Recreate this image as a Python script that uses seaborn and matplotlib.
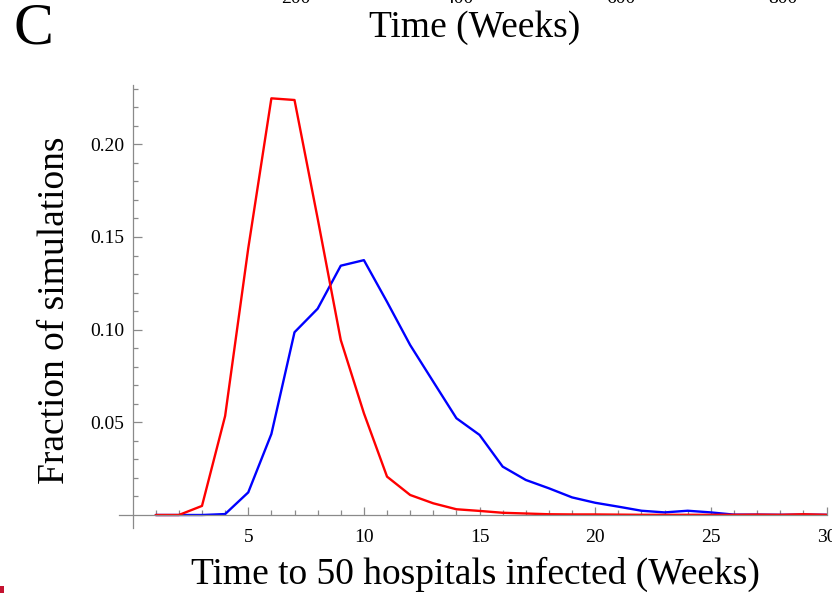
import numpy as np
import pandas as pd
import matplotlib
matplotlib.use("Agg")
import matplotlib.pyplot as plt
from matplotlib.ticker import FixedLocator, FuncFormatter
from matplotlib.patches import Rectangle
import seaborn as sns

# ---- data ----
weeks = list(range(1, 31))
red_fraction = [0, 0, 0.0049, 0.0534, 0.1439, 0.2248, 0.2239, 0.160, 0.0944, 0.0549,
                0.0207, 0.0108, 0.0063, 0.0031, 0.0022, 0.0012, 0.0008, 0.0004, 0.0003, 0.0003,
                0.0002, 0.0001, 0.0001, 0.0001, 0.0001, 0.0001, 0.0002, 0.0001, 0.0004, 0.0001]
blue_fraction = [0, 0, 0, 0.0005, 0.0122, 0.0437, 0.0986, 0.1113, 0.1345, 0.1375,
                 0.1150, 0.0917, 0.0719, 0.0522, 0.0432, 0.0261, 0.0189, 0.0144, 0.0095, 0.0066,
                 0.0045, 0.0023, 0.0014, 0.0023, 0.0014, 0.0002, 0.0002, 0.0001, 0.0002, 0.0001]
x_major_ticks = [5, 10, 15, 20, 25, 30]
y_major_ticks = [0.05, 0.10, 0.15, 0.20]
top_tick_labels = ["200", "400", "600", "800"]

df = pd.DataFrame({"week": weeks, "red": red_fraction, "blue": blue_fraction})

sns.set_style("white")
plt.rcParams["font.family"] = ["Liberation Serif", "DejaVu Serif"]
plt.rcParams["text.color"] = "black"
plt.rcParams["axes.labelcolor"] = "black"
plt.rcParams["xtick.color"] = "black"
plt.rcParams["ytick.color"] = "black"

W, H = 832, 593
fig = plt.figure(figsize=(W / 100, H / 100), dpi=100)

# axes geometry in pixels
x0_px, unit_x = 132.6, 23.13
xmin, xmax = -0.6, 30.02
y0_px, unit_y = 515.0, 1853.5
ymin, ymax = -0.007, 0.232
left_px = x0_px + xmin * unit_x
right_px = x0_px + xmax * unit_x
bottom_px = y0_px - ymin * unit_y
top_px = y0_px - ymax * unit_y
ax = fig.add_axes([left_px / W, 1 - bottom_px / H,
                   (right_px - left_px) / W, (bottom_px - top_px) / H])

sns.lineplot(data=df, x="week", y="blue", ax=ax, color="#0000ff", lw=1.7, legend=False)
sns.lineplot(data=df, x="week", y="red", ax=ax, color="#ff0000", lw=1.7, legend=False)

ax.set_xlim(xmin, xmax)
ax.set_ylim(ymin, ymax)
for s in ["top", "right"]:
    ax.spines[s].set_visible(False)
ax.spines["left"].set_position(("data", 0))
ax.spines["bottom"].set_position(("data", 0))
for s in ["left", "bottom"]:
    ax.spines[s].set_color("#8a8a8a")
    ax.spines[s].set_linewidth(0.9)

ax.xaxis.set_major_locator(FixedLocator(x_major_ticks))
ax.xaxis.set_minor_locator(FixedLocator([w for w in weeks if w not in x_major_ticks]))
ax.yaxis.set_major_locator(FixedLocator(y_major_ticks))
ax.yaxis.set_minor_locator(FixedLocator([v / 100 for v in range(1, 24) if v % 5 != 0]))
ax.yaxis.set_major_formatter(FuncFormatter(lambda v, p: f"{v:.2f}"))
ax.tick_params(axis="both", which="both", direction="in", color="#8a8a8a", width=0.9,
               labelsize=14, labelcolor="black", bottom=True, left=True, top=False, right=False)
ax.tick_params(axis="x", which="major", length=6, pad=10)
ax.tick_params(axis="x", which="minor", length=3.3)
ax.tick_params(axis="y", which="major", length=6.5, pad=6)
ax.tick_params(axis="y", which="minor", length=3.6)

ax.set_xlabel("Time to 50 hospitals infected (Weeks)", fontsize=27, color="black")
ax.set_ylabel("Fraction of simulations", fontsize=27, color="black")
ax.xaxis.set_label_coords((475 - left_px) / (right_px - left_px), (bottom_px - 574) / (bottom_px - top_px))
ax.yaxis.set_label_coords((55 - left_px) / (right_px - left_px), (bottom_px - 310) / (bottom_px - top_px))
ax.xaxis.label.set_va("center")
ax.yaxis.label.set_va("center")

# panel label and fragments of the panel above
fig.text(14 / W, 1 - 30 / H, "C", fontsize=43, va="center", ha="left", color="black")
fig.text(475 / W, 1 - 28 / H, "Time (Weeks)", fontsize=27, va="center", ha="center", color="black")
for lbl, xp in zip(top_tick_labels, [296, 459, 621, 783]):
    fig.text(xp / W, 1 - 3 / H, lbl, fontsize=14, va="baseline", ha="center", color="black")
fig.patches.append(Rectangle((0, 0), 4 / W, 7 / H, transform=fig.transFigure,
                             color="#c41230", lw=0))

fig.savefig("out.png", dpi=100)
